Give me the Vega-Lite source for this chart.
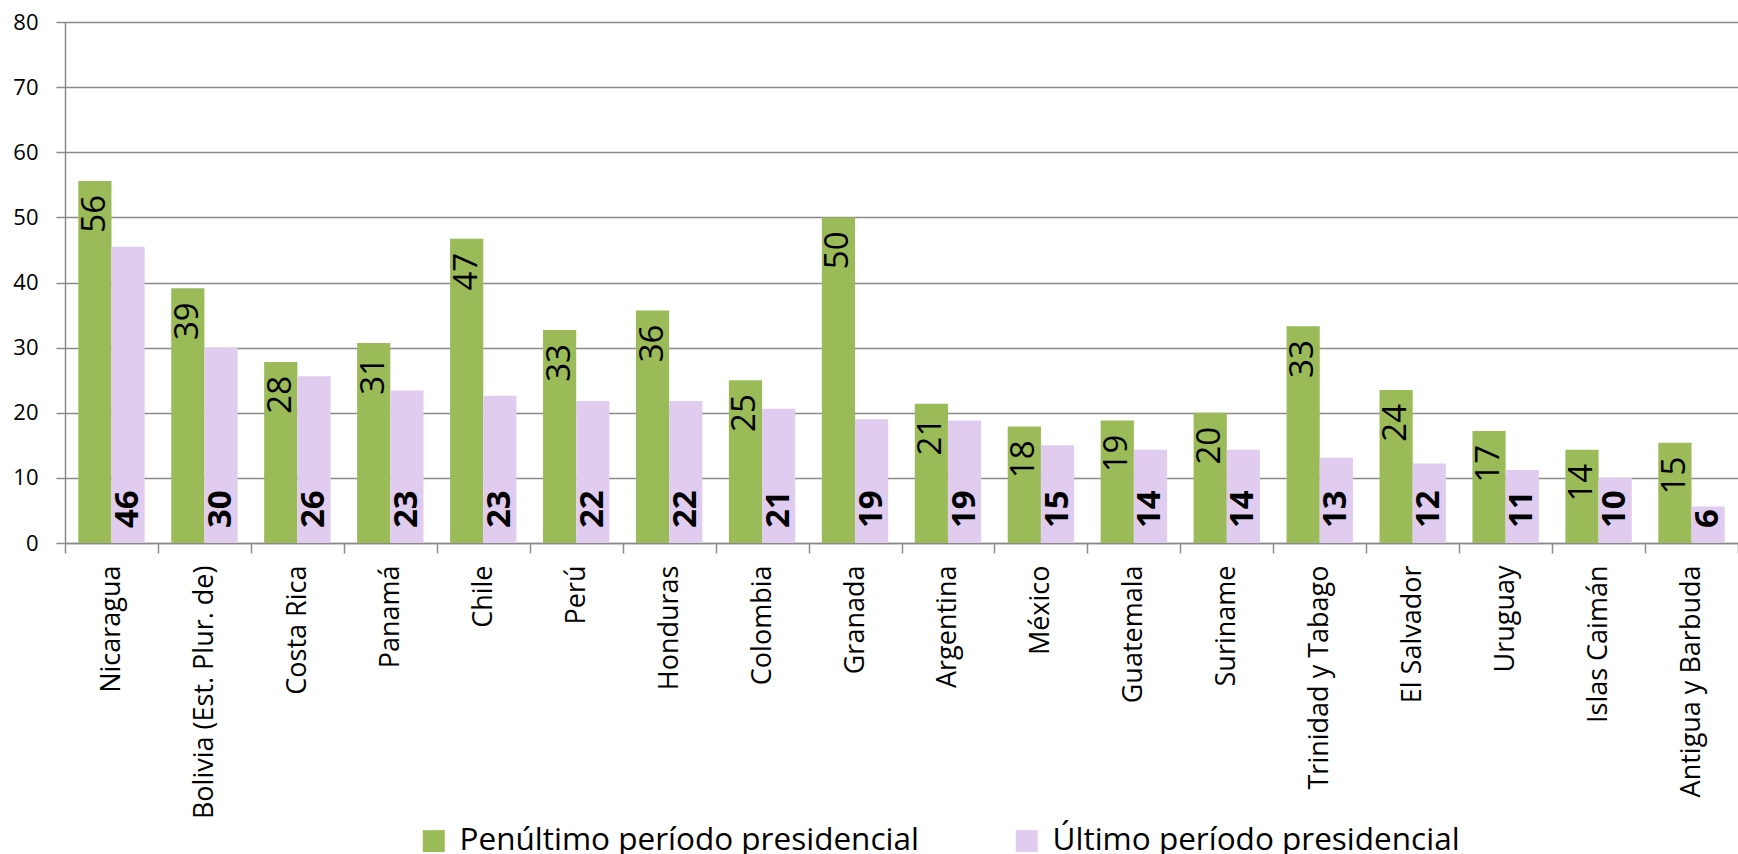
{
  "$schema": "https://vega.github.io/schema/vega-lite/v6.json",
  "width": 1673,
  "height": 521,
  "autosize": {"type": "none"},
  "padding": {"left": 65, "top": 22, "right": 0, "bottom": 311},
  "background": "white",
  "config": {
    "view": {"stroke": null},
    "font": "Open Sans"
  },
  "data": {
    "values": [
      {"pais": "Nicaragua", "serie": "Penúltimo período presidencial", "valor": 55.6},
      {"pais": "Nicaragua", "serie": "Último período presidencial", "valor": 45.5},
      {"pais": "Bolivia (Est. Plur. de)", "serie": "Penúltimo período presidencial", "valor": 39.1},
      {"pais": "Bolivia (Est. Plur. de)", "serie": "Último período presidencial", "valor": 30.0},
      {"pais": "Costa Rica", "serie": "Penúltimo período presidencial", "valor": 27.8},
      {"pais": "Costa Rica", "serie": "Último período presidencial", "valor": 25.6},
      {"pais": "Panamá", "serie": "Penúltimo período presidencial", "valor": 30.7},
      {"pais": "Panamá", "serie": "Último período presidencial", "valor": 23.4},
      {"pais": "Chile", "serie": "Penúltimo período presidencial", "valor": 46.7},
      {"pais": "Chile", "serie": "Último período presidencial", "valor": 22.6},
      {"pais": "Perú", "serie": "Penúltimo período presidencial", "valor": 32.7},
      {"pais": "Perú", "serie": "Último período presidencial", "valor": 21.8},
      {"pais": "Honduras", "serie": "Penúltimo período presidencial", "valor": 35.7},
      {"pais": "Honduras", "serie": "Último período presidencial", "valor": 21.8},
      {"pais": "Colombia", "serie": "Penúltimo período presidencial", "valor": 25.0},
      {"pais": "Colombia", "serie": "Último período presidencial", "valor": 20.6},
      {"pais": "Granada", "serie": "Penúltimo período presidencial", "valor": 50.0},
      {"pais": "Granada", "serie": "Último período presidencial", "valor": 19.0},
      {"pais": "Argentina", "serie": "Penúltimo período presidencial", "valor": 21.4},
      {"pais": "Argentina", "serie": "Último período presidencial", "valor": 18.8},
      {"pais": "México", "serie": "Penúltimo período presidencial", "valor": 17.9},
      {"pais": "México", "serie": "Último período presidencial", "valor": 15.0},
      {"pais": "Guatemala", "serie": "Penúltimo período presidencial", "valor": 18.8},
      {"pais": "Guatemala", "serie": "Último período presidencial", "valor": 14.3},
      {"pais": "Suriname", "serie": "Penúltimo período presidencial", "valor": 20.0},
      {"pais": "Suriname", "serie": "Último período presidencial", "valor": 14.3},
      {"pais": "Trinidad y Tabago", "serie": "Penúltimo período presidencial", "valor": 33.3},
      {"pais": "Trinidad y Tabago", "serie": "Último período presidencial", "valor": 13.1},
      {"pais": "El Salvador", "serie": "Penúltimo período presidencial", "valor": 23.5},
      {"pais": "El Salvador", "serie": "Último período presidencial", "valor": 12.2},
      {"pais": "Uruguay", "serie": "Penúltimo período presidencial", "valor": 17.2},
      {"pais": "Uruguay", "serie": "Último período presidencial", "valor": 11.2},
      {"pais": "Islas Caimán", "serie": "Penúltimo período presidencial", "valor": 14.3},
      {"pais": "Islas Caimán", "serie": "Último período presidencial", "valor": 10.0},
      {"pais": "Antigua y Barbuda", "serie": "Penúltimo período presidencial", "valor": 15.4},
      {"pais": "Antigua y Barbuda", "serie": "Último período presidencial", "valor": 5.6}
    ]
  },
  "encoding": {
    "x": {
      "field": "pais",
      "type": "nominal",
      "sort": null,
      "scale": {"paddingInner": 0, "paddingOuter": 0},
      "axis": {
        "title": null,
        "tickBand": "extent",
        "labelAngle": -90,
        "labelFontSize": 27,
        "labelColor": "#000000",
        "labelPadding": 12,
        "labelLimit": 400,
        "tickSize": 10,
        "tickColor": "#8a8a8a",
        "tickWidth": 1.5,
        "domainColor": "#8a8a8a",
        "domainWidth": 1.5,
        "grid": false
      }
    },
    "xOffset": {
      "field": "serie",
      "type": "nominal",
      "scale": {"paddingOuter": 0.4, "paddingInner": 0}
    },
    "y": {
      "field": "valor",
      "type": "quantitative",
      "scale": {"domain": [0, 80], "nice": false},
      "axis": {
        "title": null,
        "values": [0, 10, 20, 30, 40, 50, 60, 70, 80],
        "labelFontSize": 22,
        "labelColor": "#000000",
        "labelPadding": 18,
        "tickSize": 9,
        "tickColor": "#8a8a8a",
        "tickWidth": 1.5,
        "domainColor": "#8a8a8a",
        "domainWidth": 1.5,
        "gridColor": "#8a8a8a",
        "gridWidth": 1.5
      }
    }
  },
  "layer": [
    {
      "mark": {"type": "bar"},
      "encoding": {
        "color": {
          "field": "serie",
          "type": "nominal",
          "scale": {
            "domain": ["Penúltimo período presidencial", "Último período presidencial"],
            "range": ["#9BBB59", "#E0CCEF"]
          },
          "legend": {
            "title": null,
            "orient": "none",
            "direction": "horizontal",
            "legendX": 353,
            "legendY": 803,
            "symbolType": "square",
            "symbolSize": 484,
            "symbolStrokeWidth": 0,
            "labelFontSize": 31.5,
            "labelColor": "#000000",
            "labelOffset": 10,
            "labelLimit": 600,
            "columnPadding": 92
          }
        }
      }
    },
    {
      "transform": [{"filter": "datum.serie === 'Penúltimo período presidencial'"}],
      "mark": {"type": "text", "angle": -90, "align": "right", "baseline": "middle", "dx": -14, "fontSize": 33, "color": "#000000"},
      "encoding": {
        "text": {"field": "valor", "type": "quantitative", "format": ".0f"}
      }
    },
    {
      "transform": [{"filter": "datum.serie === 'Último período presidencial'"}],
      "mark": {"type": "text", "angle": -90, "align": "left", "baseline": "middle", "dx": 15, "fontSize": 33, "fontWeight": "bold", "color": "#000000"},
      "encoding": {
        "y": {"datum": 0},
        "text": {"field": "valor", "type": "quantitative", "format": ".0f"}
      }
    }
  ]
}
